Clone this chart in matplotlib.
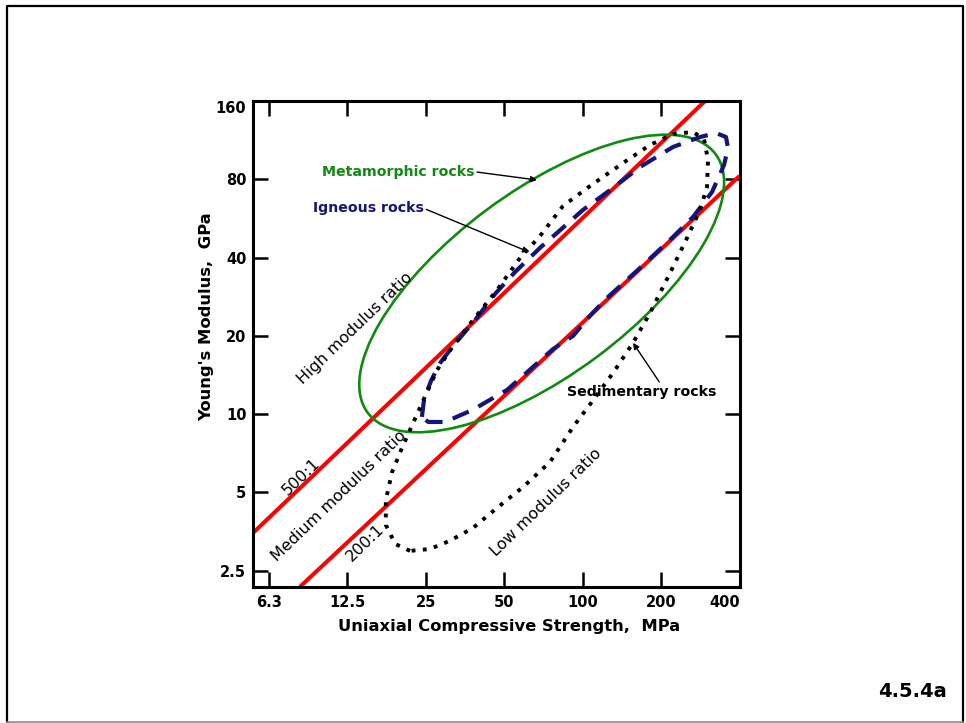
import matplotlib
matplotlib.use("Agg")
import numpy as np
import matplotlib.pyplot as plt
from matplotlib.patches import Ellipse
from matplotlib.lines import Line2D
from matplotlib.ticker import NullLocator

# axis ticks
ucs_ticks = [6.25, 12.5, 25, 50, 100, 200, 400]
ucs_labels = ["6.3", "12.5", "25", "50", "100", "200", "400"]
e_ticks = [2.5, 5, 10, 20, 40, 80, 160]
e_labels = ["2.5", "5", "10", "20", "40", "80", "160"]

# modulus ratio lines (UCS in MPa, E in GPa)
ratio500_ucs = [5.46, 295.0]
ratio500_e = [3.50, 160.0]
ratio200_ucs = [8.25, 400.0]
ratio200_e = [2.17, 82.4]

# metamorphic field: ellipse in log space, centre and semi axes in decades
meta_center = (69.7, 31.8)
meta_semi = (0.832, 0.353)
meta_angle = 36.7

# igneous field outline
ign_ucs = [24.2, 24.7, 26.3, 28.4, 31.6, 38.7, 46.2, 55.1, 68.7, 80.6, 100.4,
           130.9, 166.2, 222.4, 282.3, 325.2, 355.0, 361.4, 348.9, 313.9, 265.3,
           222.4, 166.2, 124.2, 106.9, 92.0, 77.1, 61.3, 51.4, 38.0, 29.7, 25.6]
ign_e = [9.76, 11.5, 13.5, 15.7, 18.1, 23.0, 29.0, 35.2, 43.6, 50.2, 61.0,
         74.1, 89.2, 106.5, 116.3, 120.5, 116.3, 105.5, 90.8, 71.5, 57.3,
         48.0, 36.5, 28.0, 23.9, 20.0, 17.8, 14.5, 12.4, 10.4, 9.33, 9.33]

# sedimentary field outline
sed_ucs = [21.8, 19.1, 17.6, 17.6, 18.6, 20.3, 22.4, 24.5, 27.7, 31.9, 38.0,
           47.0, 57.6, 68.7, 84.2, 106.9, 143.0, 181.5, 222.4, 265.3, 292.4,
           302.9, 300.2, 282.3, 251.7, 216.6, 181.5, 156.2, 130.9, 109.7, 92.0,
           75.1, 59.2, 47.0, 38.0, 31.0, 26.0]
sed_e = [2.98, 3.17, 3.75, 4.68, 5.99, 7.41, 9.25, 11.3, 14.8, 18.3, 23.0,
         30.0, 39.9, 48.4, 63.2, 75.4, 92.4, 108.4, 119.5, 121.6, 114.3,
         94.9, 74.7, 61.0, 47.6, 34.9, 24.5, 18.8, 14.4, 11.3, 8.93,
         6.55, 5.25, 4.36, 3.65, 3.26, 3.03]

plt.rcParams['font.family'] = ['DejaVu Sans']

fig = plt.figure(figsize=(9.66, 7.23), dpi=100)
ax = fig.add_axes([253.3 / 966, 136.3 / 723, 486.2 / 966, 485.7 / 723])
ax.set_xscale('log')
ax.set_yscale('log')
ax.set_xlim(5.46, 400)
ax.set_ylim(2.17, 160)

# ratio lines
ax.plot(ratio500_ucs, ratio500_e, color='#ff0000', lw=2.9, solid_capstyle='butt', zorder=2)
ax.plot(ratio200_ucs, ratio200_e, color='#ff0000', lw=2.9, solid_capstyle='butt', zorder=2)

# metamorphic ellipse drawn in log10 space
log_tr = ax.transLimits + ax.transAxes
meta = Ellipse((np.log10(meta_center[0]), np.log10(meta_center[1])),
               2 * meta_semi[0], 2 * meta_semi[1], angle=meta_angle,
               transform=log_tr, fill=False, edgecolor='#118a11', lw=1.9, zorder=3)
ax.add_patch(meta)

# igneous and sedimentary fields (closed outlines)
ax.plot(ign_ucs + ign_ucs[:1], ign_e + ign_e[:1], color='#14147a', lw=3.0,
        linestyle=(0, (4.2, 2.6)), dash_capstyle='butt', zorder=4)
ax.plot(sed_ucs + sed_ucs[:1], sed_e + sed_e[:1], color='black', lw=2.8,
        linestyle=(0, (1, 1.9)), dash_capstyle='butt', zorder=5)

# axes and ticks
ax.xaxis.set_minor_locator(NullLocator())
ax.yaxis.set_minor_locator(NullLocator())
ax.set_xticks(ucs_ticks)
ax.set_yticks(e_ticks)
ax.set_xticklabels(ucs_labels, fontweight='bold', fontsize=10.5)
ax.set_yticklabels(e_labels, fontweight='bold', fontsize=10.5)
ax.xaxis.get_ticklabels()[-1].set_horizontalalignment('right')
ax.yaxis.get_ticklabels()[-1].set_verticalalignment('top')
ax.tick_params(which='major', direction='in', length=11, width=1.8,
               top=True, right=True, pad=6)
ax.tick_params(axis='y', pad=5)
for s in ax.spines.values():
    s.set_linewidth(2.2)

fig.text(509.5 / 966, 1 - 626.7 / 723, "Uniaxial Compressive Strength,  MPa",
         ha='center', va='center', fontsize=11.8, fontweight='bold')
fig.text(206.5 / 966, 1 - 316.5 / 723, "Young's Modulus,  GPa",
         ha='center', va='center', rotation=90, fontsize=11.8, fontweight='bold')

# rock type labels with leaders
arrow = dict(arrowstyle='-|>', color='black', lw=1.0, mutation_scale=9,
             shrinkA=0, shrinkB=0)
ax.annotate("Metamorphic rocks", xy=(66.9, 79.5), xytext=(0.1407, 0.8544),
            textcoords='axes fraction', ha='left', va='center',
            color='#118a11', fontsize=10.2, fontweight='bold',
            arrowprops=dict(arrow, relpos=(1, 0.5)), zorder=6)
ax.annotate("Igneous rocks", xy=(62.4, 42.0), xytext=(0.1222, 0.7791),
            textcoords='axes fraction', ha='left', va='center',
            color='#14147a', fontsize=10.2, fontweight='bold',
            arrowprops=dict(arrow, relpos=(1, 0.5)), zorder=6)
ax.annotate("Sedimentary rocks", xy=(156.2, 18.8), xytext=(0.6452, 0.4015),
            textcoords='axes fraction', ha='left', va='center',
            color='black', fontsize=10.2, fontweight='bold',
            arrowprops=dict(arrow, relpos=(0.63, 1)), zorder=6)

# ratio zone labels
rot = dict(rotation=44, rotation_mode='anchor', ha='center', va='center',
           transform=ax.transAxes, fontsize=11.5, zorder=6)
ax.text(0.2092, 0.5326, "High modulus ratio", **rot)
ax.text(0.1752, 0.1857, "Medium modulus ratio", **rot)
ax.text(0.6020, 0.1744, "Low modulus ratio", **rot)
ax.text(0.0975, 0.2265, "500:1", **rot)
ax.text(0.2297, 0.0900, "200:1", **rot)

# page frame and figure number
fig.add_artist(Line2D([7 / 966, 7 / 966, 963 / 966, 963 / 966],
                      [1 - 722 / 723, 1 - 6 / 723, 1 - 6 / 723, 1 - 722 / 723],
                      color='black', lw=1.6, transform=fig.transFigure))
fig.add_artist(Line2D([7 / 966, 963 / 966], [1 - 721.5 / 723, 1 - 721.5 / 723],
                      color='#8a8a8a', lw=1.2, transform=fig.transFigure))
fig.text(947 / 966, 1 - 691.7 / 723, "4.5.4a", ha='right', va='center',
         fontsize=14, fontweight='bold')

fig.savefig("out.png", dpi=100)
